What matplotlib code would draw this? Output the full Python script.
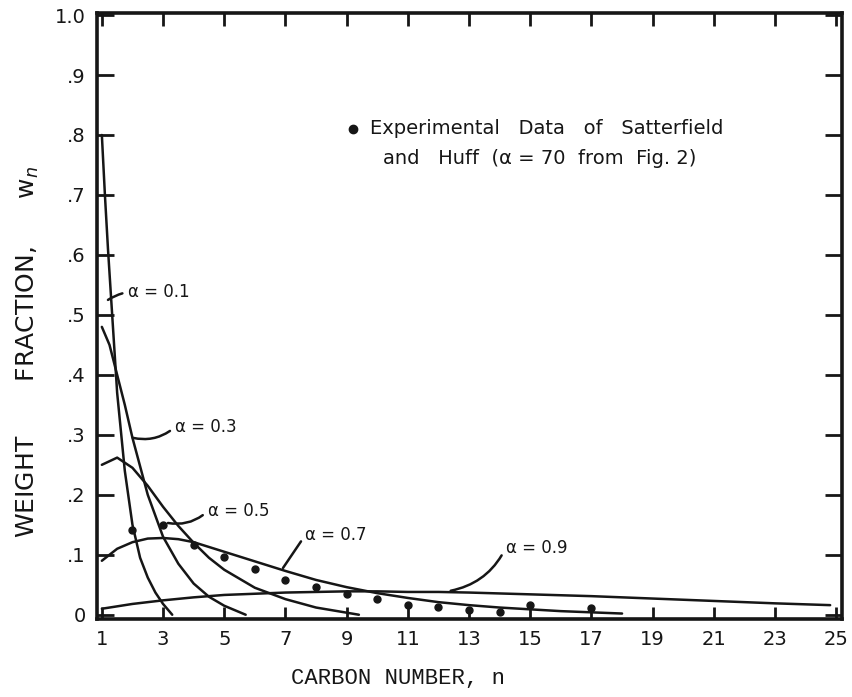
import matplotlib
matplotlib.use("Agg")
import matplotlib.pyplot as plt

# curves: carbon number n vs weight fraction w_n
n_01 = [1.0, 1.1, 1.2, 1.3, 1.4, 1.5, 1.75, 2.0, 2.25, 2.5, 2.75, 3.0, 3.3]
w_01 = [0.80, 0.70, 0.61, 0.53, 0.45, 0.37, 0.24, 0.15, 0.095, 0.062, 0.037, 0.018, 0.0]

n_03 = [1.0, 1.25, 1.5, 1.75, 2.0, 2.5, 3.0, 3.5, 4.0, 4.5, 5.0, 5.7]
w_03 = [0.48, 0.45, 0.40, 0.35, 0.295, 0.20, 0.13, 0.085, 0.052, 0.03, 0.015, 0.0]

n_05 = [1.0, 1.5, 2.0, 2.5, 3.0, 3.5, 4.0, 4.5, 5.0, 6.0, 7.0, 8.0, 9.4]
w_05 = [0.25, 0.262, 0.245, 0.215, 0.18, 0.148, 0.12, 0.095, 0.075, 0.045, 0.026, 0.012, 0.0]

n_07 = [1, 1.5, 2, 2.5, 3, 3.5, 4, 5, 6, 7, 8, 9, 10, 11, 12, 13, 14, 15, 16, 17, 18]
w_07 = [0.09, 0.11, 0.121, 0.127, 0.128, 0.126, 0.121, 0.105, 0.089, 0.073, 0.058,
        0.046, 0.036, 0.028, 0.021, 0.016, 0.012, 0.009, 0.006, 0.004, 0.002]

n_09 = [1, 2, 3, 4, 5, 6, 7, 8, 9, 10, 11, 12, 13, 15, 17, 19, 21, 23, 24.8]
w_09 = [0.01, 0.018, 0.024, 0.029, 0.033, 0.035, 0.037, 0.038, 0.039, 0.039, 0.038,
        0.038, 0.037, 0.034, 0.031, 0.027, 0.023, 0.019, 0.016]

# experimental data of Satterfield and Huff
exp_n = [2, 3, 4, 5, 6, 7, 8, 9, 10, 11, 12, 13, 14, 15, 17]
exp_w = [0.142, 0.150, 0.117, 0.097, 0.076, 0.058, 0.047, 0.035, 0.027, 0.017,
         0.013, 0.008, 0.005, 0.016, 0.012]

x_ticks = list(range(1, 26, 2))
y_ticks = [0, 0.1, 0.2, 0.3, 0.4, 0.5, 0.6, 0.7, 0.8, 0.9, 1.0]
y_labels = ['0', '.1', '.2', '.3', '.4', '.5', '.6', '.7', '.8', '.9', '1.0']

ink = '#161616'

fig = plt.figure(figsize=(8.52, 6.97), dpi=100)
ax = fig.add_axes([0.1138, 0.112, 0.8742, 0.869])

for n, w in [(n_01, w_01), (n_03, w_03), (n_05, w_05), (n_07, w_07), (n_09, w_09)]:
    ax.plot(n, w, color=ink, lw=1.8, solid_capstyle='round')

ax.plot(exp_n, exp_w, 'o', color=ink, markersize=5)

ax.set_xlim(0.84, 25.18)
ax.set_ylim(-0.007, 1.003)

ax.set_xticks(x_ticks)
ax.set_xticklabels([str(v) for v in x_ticks])
ax.set_yticks(y_ticks)
ax.set_yticklabels(y_labels)
ax.tick_params(axis='both', direction='in', length=9, width=2, colors=ink,
               labelsize=14, pad=8, top=True, right=True)
ax.tick_params(axis='y', length=12)
for s in ax.spines.values():
    s.set_linewidth(2.6)
    s.set_color(ink)

# axis titles placed where they sit in the scan
fig.text(398 / 852, 1 - 678 / 697, 'CARBON NUMBER, n', family='Liberation Mono',
         fontsize=16, color=ink, ha='center', va='center')
fig.text(28 / 852, 1 - 352 / 697, 'WEIGHT       FRACTION,      w$_n$',
         fontsize=18, color=ink, ha='center', va='center', rotation=90)

# alpha labels with leader lines
labels = [
    ('α = 0.1', (1.2, 0.525), (1.85, 0.538), 'arc3,rad=0.1'),
    ('α = 0.3', (2.01, 0.295), (3.39, 0.313), 'arc3,rad=-0.25'),
    ('α = 0.5', (3.16, 0.153), (4.46, 0.173), 'arc3,rad=-0.25'),
    ('α = 0.7', (6.92, 0.078), (7.65, 0.133), 'arc3,rad=0.0'),
    ('α = 0.9', (12.4, 0.040), (14.2, 0.112), 'arc3,rad=-0.25'),
]
for txt, xy, xytext, cs in labels:
    ax.annotate(txt, xy=xy, xytext=xytext, fontsize=12, color=ink,
                ha='left', va='center',
                arrowprops=dict(arrowstyle='-', color=ink, lw=1.8,
                                connectionstyle=cs, relpos=(0, 0.5),
                                shrinkA=2, shrinkB=0))

ax.plot([9.2], [0.81], 'o', color=ink, markersize=6)
ax.text(9.75, 0.81, 'Experimental   Data   of   Satterfield', fontsize=14,
        color=ink, va='center')
ax.text(10.2, 0.76, 'and   Huff  (α = 70  from  Fig. 2)', fontsize=14,
        color=ink, va='center')

fig.savefig('out.png', dpi=100, facecolor='white')
